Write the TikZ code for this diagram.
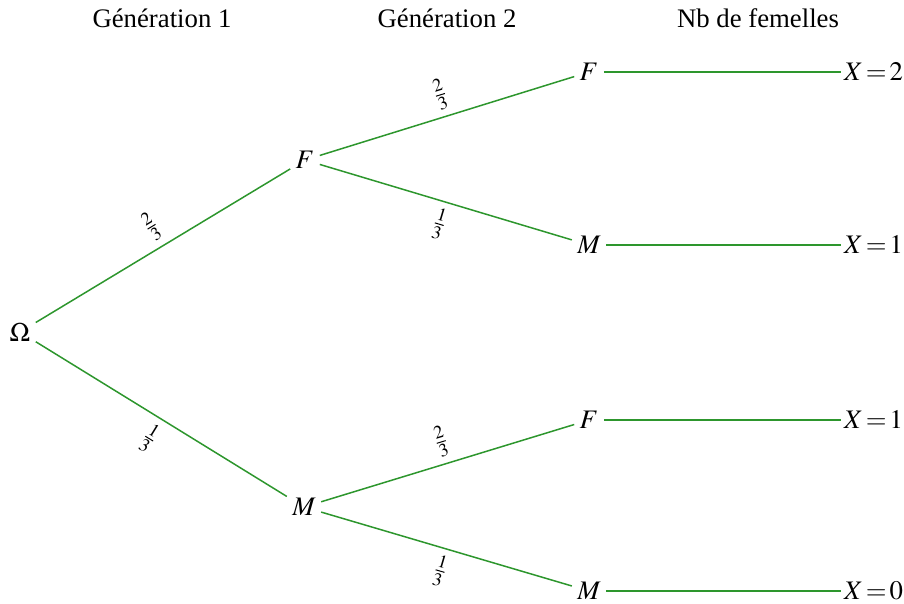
\documentclass[tikz,border=0pt]{standalone}
\usepackage{mathptmx}
\usepackage{fontspec}
\setmainfont{Liberation Serif}
\definecolor{branch}{RGB}{45,150,45}
\newcommand{\outcome}[1]{$X\mkern2mu{=}\mkern2mu#1$}
\begin{document}
\begin{tikzpicture}[x=0.4pt,y=-0.4pt,
  every node/.style={font=\fontsize{10.7}{13}\selectfont, inner sep=2pt},
  edge/.style={draw=branch, line width=0.6pt},
  prob/.style={font=\fontsize{10}{12}\selectfont, sloped, inner sep=2.5pt}]
\useasboundingbox (0,0) rectangle (904,603);
% column headings
\node (h1) at (162,18) {Génération 1};
\node (h2) at (447,18) {Génération 2};
\node (h3) at (758,18) {Nb de femelles};
% tree nodes
\node (o) at (20,332) {$\Omega$};
\node (f1) at (305,160) {$F$};
\node (m1) at (304,507) {$M$};
\node (ff) at (589,72) {$F$};
\node (fm) at (589,245) {$M$};
\node (mf) at (589,420) {$F$};
\node (mm) at (589,591) {$M$};
% outcomes
\node[anchor=west, inner sep=1pt] (x2) at (841,72) {\outcome{2}};
\node[anchor=west, inner sep=1pt] (x1a) at (841,245) {\outcome{1}};
\node[anchor=west, inner sep=1pt] (x1b) at (841,420) {\outcome{1}};
\node[anchor=west, inner sep=1pt] (x0) at (841,591) {\outcome{0}};
% branches with probabilities
\draw[edge] (o) -- node[prob, above] {$\frac{2}{3}$} (f1);
\draw[edge] (o) -- node[prob, below] {$\frac{1}{3}$} (m1);
\draw[edge] (f1) -- node[prob, above] {$\frac{2}{3}$} (ff);
\draw[edge] (f1) -- node[prob, below] {$\frac{1}{3}$} (fm);
\draw[edge] (m1) -- node[prob, above] {$\frac{2}{3}$} (mf);
\draw[edge] (m1) -- node[prob, below] {$\frac{1}{3}$} (mm);
% leaves to outcomes
\draw[edge] (ff) -- (x2);
\draw[edge] (fm) -- (x1a);
\draw[edge] (mf) -- (x1b);
\draw[edge] (mm) -- (x0);
\end{tikzpicture}
\end{document}
